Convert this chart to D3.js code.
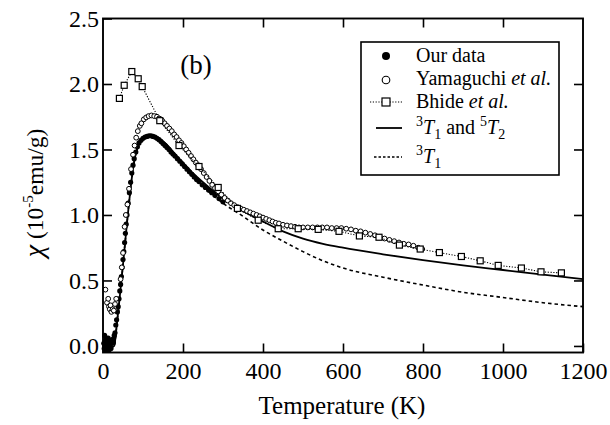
<!DOCTYPE html>
<html><head><meta charset="utf-8">
<script src="https://cdn.jsdelivr.net/npm/d3@7"></script>
<style>
body{margin:0;background:#fff;}
svg text{font-family:"Liberation Serif","Times New Roman",serif;fill:#000;}
</style></head>
<body><svg id="c" width="610" height="425"></svg>
<script>
// ---- data ----
const tempTicks = [0, 200, 400, 600, 800, 1000, 1200];
const chiTicks = [0.0, 0.5, 1.0, 1.5, 2.0, 2.5];
const chiTickLabels = ["0.0", "0.5", "1.0", "1.5", "2.0", "2.5"];

const ourT = [2,3,4,5,6,7,8,9,10,11,12,13,14,15,16,18,19,20,22,24,26,28,30,32,34,36,38,40,42,44,46,48,50,52,54,56,58,60,63,66,69,72,75,78,82,86,90,95,100,105,110,115,120,125,130,135,140,145,150,155,160,165,170,175,180,186,192,198,204,210,216,222,228,234,240,248,256,264,272,280,290,300];
const ourChi = [0.02,-0.02,0.08,0.01,0.04,-0.03,0.06,0.0,0.03,-0.02,0.02,0.06,-0.01,-0.03,0.02,0.0,0.04,-0.02,0.02,0.05,0.03,0.08,0.1,0.16,0.2,0.26,0.3,0.36,0.42,0.47,0.53,0.6,0.66,0.72,0.79,0.86,0.93,1.0,1.09,1.17,1.25,1.32,1.38,1.43,1.48,1.52,1.55,1.57,1.585,1.595,1.6,1.605,1.605,1.6,1.595,1.585,1.575,1.56,1.545,1.53,1.515,1.5,1.48,1.465,1.45,1.43,1.41,1.39,1.37,1.35,1.33,1.31,1.29,1.27,1.255,1.23,1.21,1.19,1.17,1.15,1.125,1.1];

const yamaT = [6,10,13,15,17,19,21,24,27,30,33,44,47,50,54,57,61,65,70,75,79,83,87,92,96,102,108,114,121,128,135,142,148,154,160,166,172,178,184,190,196,202,208,214,220,226,232,238,245,252,259,266,273,280,288,296,304,312,320,328,336,344,352,360,368,376,384,392,400,408,416,424,432,440,450,460,470,480,490,500,512,524,536,548,560,572,584,596,608,620,632,644,656,668,680,692,704,716,728,740,752,764,776,788,798];
const yamaChi = [0.43,0.33,0.36,0.30,0.28,0.31,0.26,0.28,0.27,0.32,0.36,0.51,0.6,0.71,0.91,1.0,1.08,1.2,1.35,1.46,1.53,1.59,1.64,1.68,1.70,1.73,1.745,1.755,1.76,1.755,1.75,1.735,1.72,1.70,1.68,1.66,1.64,1.615,1.595,1.57,1.55,1.525,1.5,1.475,1.45,1.425,1.4,1.38,1.35,1.32,1.29,1.26,1.23,1.205,1.18,1.155,1.13,1.11,1.09,1.075,1.06,1.05,1.04,1.03,1.02,1.01,1.0,0.99,0.98,0.97,0.96,0.95,0.94,0.935,0.925,0.92,0.915,0.91,0.905,0.905,0.905,0.905,0.905,0.905,0.905,0.9,0.9,0.9,0.895,0.89,0.88,0.875,0.865,0.855,0.845,0.833,0.82,0.81,0.8,0.79,0.78,0.775,0.765,0.75,0.74];

const bhideT = [41,53,72,88,98,142,190,240,288,336,388,438,488,538,590,641,690,741,793,841,896,943,988,1046,1095,1146];
const bhideChi = [1.89,1.99,2.095,2.04,1.98,1.72,1.53,1.37,1.21,1.05,0.96,0.895,0.895,0.89,0.875,0.84,0.83,0.77,0.74,0.713,0.683,0.65,0.615,0.595,0.566,0.558];

const fitBothT = [0,15,28,35,40,45,50,55,60,65,70,75,80,85,90,100,110,120,130,140,160,180,200,225,250,275,300,350,400,450,500,550,600,700,800,900,1000,1100,1200];
const fitBothChi = [-0.02,-0.02,0.0,0.18,0.32,0.47,0.62,0.78,0.94,1.09,1.23,1.35,1.44,1.5,1.54,1.58,1.6,1.605,1.6,1.585,1.535,1.465,1.4,1.32,1.25,1.185,1.125,1.03,0.95,0.875,0.82,0.78,0.75,0.7,0.655,0.615,0.58,0.545,0.51];

const fit3T1T = [0,15,28,35,40,45,50,55,60,65,70,75,80,85,90,100,110,120,130,140,160,180,200,225,250,275,300,350,400,450,500,550,600,700,800,900,1000,1100,1200];
const fit3T1Chi = [-0.02,-0.02,0.0,0.18,0.32,0.47,0.62,0.78,0.94,1.09,1.23,1.35,1.44,1.5,1.54,1.58,1.6,1.605,1.6,1.585,1.535,1.46,1.39,1.3,1.22,1.15,1.09,0.99,0.885,0.8,0.72,0.65,0.595,0.525,0.465,0.41,0.37,0.33,0.3];

// ---- drawing ----
const svg = d3.select("#c");
const x = d3.scaleLinear().domain([0, 1200]).range([103, 583]);
const y = d3.scaleLinear().domain([-0.05, 2.5]).range([352.5, 18.5]);
const zip = (a, b) => a.map((v, i) => [v, b[i]]);

const plot = svg.append("g");
const lineGen = d3.line().x(d => x(d[0])).y(d => y(d[1])).curve(d3.curveMonotoneX);

plot.append("path").datum(zip(fit3T1T, fit3T1Chi)).attr("d", lineGen)
  .attr("fill", "none").attr("stroke", "#000").attr("stroke-width", 1.6).attr("stroke-dasharray", "3.5,3");
plot.append("path").datum(zip(fitBothT, fitBothChi)).attr("d", lineGen)
  .attr("fill", "none").attr("stroke", "#000").attr("stroke-width", 1.8);

plot.selectAll("circle.our").data(zip(ourT, ourChi)).enter().append("circle")
  .attr("class", "our").attr("cx", d => x(d[0])).attr("cy", d => y(d[1])).attr("r", 2.6).attr("fill", "#000");

plot.selectAll("circle.yama").data(zip(yamaT, yamaChi)).enter().append("circle")
  .attr("class", "yama").attr("cx", d => x(d[0])).attr("cy", d => y(d[1])).attr("r", 2.4)
  .attr("fill", "#fff").attr("stroke", "#000").attr("stroke-width", 1);

const bLine = d3.line().x(d => x(d[0])).y(d => y(d[1]));
plot.append("path").datum(zip(bhideT, bhideChi)).attr("d", bLine)
  .attr("fill", "none").attr("stroke", "#000").attr("stroke-width", 1.1).attr("stroke-dasharray", "1.2,1.6");
const sq = 6;
plot.selectAll("rect.bh").data(zip(bhideT, bhideChi)).enter().append("rect")
  .attr("class", "bh").attr("x", d => x(d[0]) - sq / 2).attr("y", d => y(d[1]) - sq / 2)
  .attr("width", sq).attr("height", sq).attr("fill", "#fff").attr("stroke", "#000").attr("stroke-width", 1.2);

// ---- axes (ticks inside on all four sides) ----
const tl = 9;
svg.append("g").attr("transform", `translate(0,${y(-0.05)})`)
  .call(d3.axisBottom(x).tickValues(tempTicks).tickSize(-tl).tickFormat(d => d))
  .call(g => { g.select(".domain").remove(); g.selectAll("text").attr("dy", 0).attr("y", 26).style("font-size", "24px").style("font-family", "Liberation Serif"); g.selectAll("line").attr("stroke-width", 1.6); });
svg.append("g").attr("transform", `translate(0,${y(2.5)})`)
  .call(d3.axisTop(x).tickValues(tempTicks.slice(1, -1)).tickSize(-tl).tickFormat(""))
  .call(g => { g.select(".domain").remove(); g.selectAll("line").attr("stroke-width", 1.6); });
svg.append("g").attr("transform", `translate(${x(0)},0)`)
  .call(d3.axisLeft(y).tickValues(chiTicks).tickSize(-tl).tickFormat((d, i) => chiTickLabels[i]))
  .call(g => { g.select(".domain").remove(); g.selectAll("text").attr("x", -4).style("font-size", "24px").style("font-family", "Liberation Serif"); g.selectAll("line").attr("stroke-width", 1.6); });
svg.append("g").attr("transform", `translate(${x(1200)},0)`)
  .call(d3.axisRight(y).tickValues(chiTicks.slice(0, -1)).tickSize(-tl).tickFormat(""))
  .call(g => { g.select(".domain").remove(); g.selectAll("line").attr("stroke-width", 1.6); });

svg.append("rect").attr("x", x(0)).attr("y", y(2.5)).attr("width", x(1200) - x(0)).attr("height", y(-0.05) - y(2.5))
  .attr("fill", "none").attr("stroke", "#000").attr("stroke-width", 1.9);

// ---- labels ----
svg.append("text").attr("x", 342).attr("y", 414).attr("text-anchor", "middle")
  .style("font-size", "25px").text("Temperature (K)");

const yl = svg.append("text").attr("transform", "translate(43,193) rotate(-90)").attr("text-anchor", "middle")
  .style("font-size", "23.5px");
yl.append("tspan").style("font-size", "28px").style("font-style", "italic").text("χ");
yl.append("tspan").text(" (10");
yl.append("tspan").attr("dy", -10).style("font-size", "15px").text("-5");
yl.append("tspan").attr("dy", 10).text("emu/g)");

svg.append("text").attr("x", 196).attr("y", 74).attr("text-anchor", "middle").style("font-size", "27px").text("(b)");

// ---- legend ----
const lg = svg.append("g");
lg.append("rect").attr("x", 361).attr("y", 42).attr("width", 198).attr("height", 133)
  .attr("fill", "#fff").attr("stroke", "#000").attr("stroke-width", 1.6);
const tx = 416, fs = "20px";
lg.append("circle").attr("cx", 386).attr("cy", 56).attr("r", 4).attr("fill", "#000");
lg.append("text").attr("x", tx).attr("y", 62).style("font-size", fs).text("Our data");
lg.append("circle").attr("cx", 386).attr("cy", 80).attr("r", 3.8).attr("fill", "#fff").attr("stroke", "#000").attr("stroke-width", 1.1);
const t2 = lg.append("text").attr("x", tx).attr("y", 85).style("font-size", fs);
t2.append("tspan").text("Yamaguchi ");
t2.append("tspan").style("font-style", "italic").text("et al.");
lg.append("line").attr("x1", 370).attr("x2", 402).attr("y1", 102).attr("y2", 102)
  .attr("stroke", "#000").attr("stroke-width", 1.1).attr("stroke-dasharray", "1.2,1.6");
lg.append("rect").attr("x", 382).attr("y", 98).attr("width", 8).attr("height", 8).attr("fill", "#fff").attr("stroke", "#000").attr("stroke-width", 1.2);
const t3 = lg.append("text").attr("x", tx).attr("y", 108).style("font-size", fs);
t3.append("tspan").text("Bhide ");
t3.append("tspan").style("font-style", "italic").text("et al.");
lg.append("line").attr("x1", 376).attr("x2", 402).attr("y1", 128).attr("y2", 128).attr("stroke", "#000").attr("stroke-width", 1.8);
function term(t, parts) {
  parts.forEach(p => {
    const s = t.append("tspan");
    if (p.sup) s.attr("dy", -8).style("font-size", "14px").text(p.sup);
    else if (p.it) s.attr("dy", 8).style("font-style", "italic").text(p.it);
    else if (p.sub) s.attr("dy", 5).style("font-size", "14px").text(p.sub);
    else s.attr("dy", -5).text(p.txt);
  });
}
const t4 = lg.append("text").attr("x", tx).attr("y", 134).style("font-size", fs);
term(t4, [{sup: "3"}, {it: "T"}, {sub: "1"}, {txt: " and  "}, {sup: "5"}, {it: "T"}, {sub: "2"}]);
lg.append("line").attr("x1", 374).attr("x2", 402).attr("y1", 157).attr("y2", 157).attr("stroke", "#000").attr("stroke-width", 1.6).attr("stroke-dasharray", "2.5,2");
const t5 = lg.append("text").attr("x", tx).attr("y", 163).style("font-size", fs);
term(t5, [{sup: "3"}, {it: "T"}, {sub: "1"}]);
</script></body></html>
